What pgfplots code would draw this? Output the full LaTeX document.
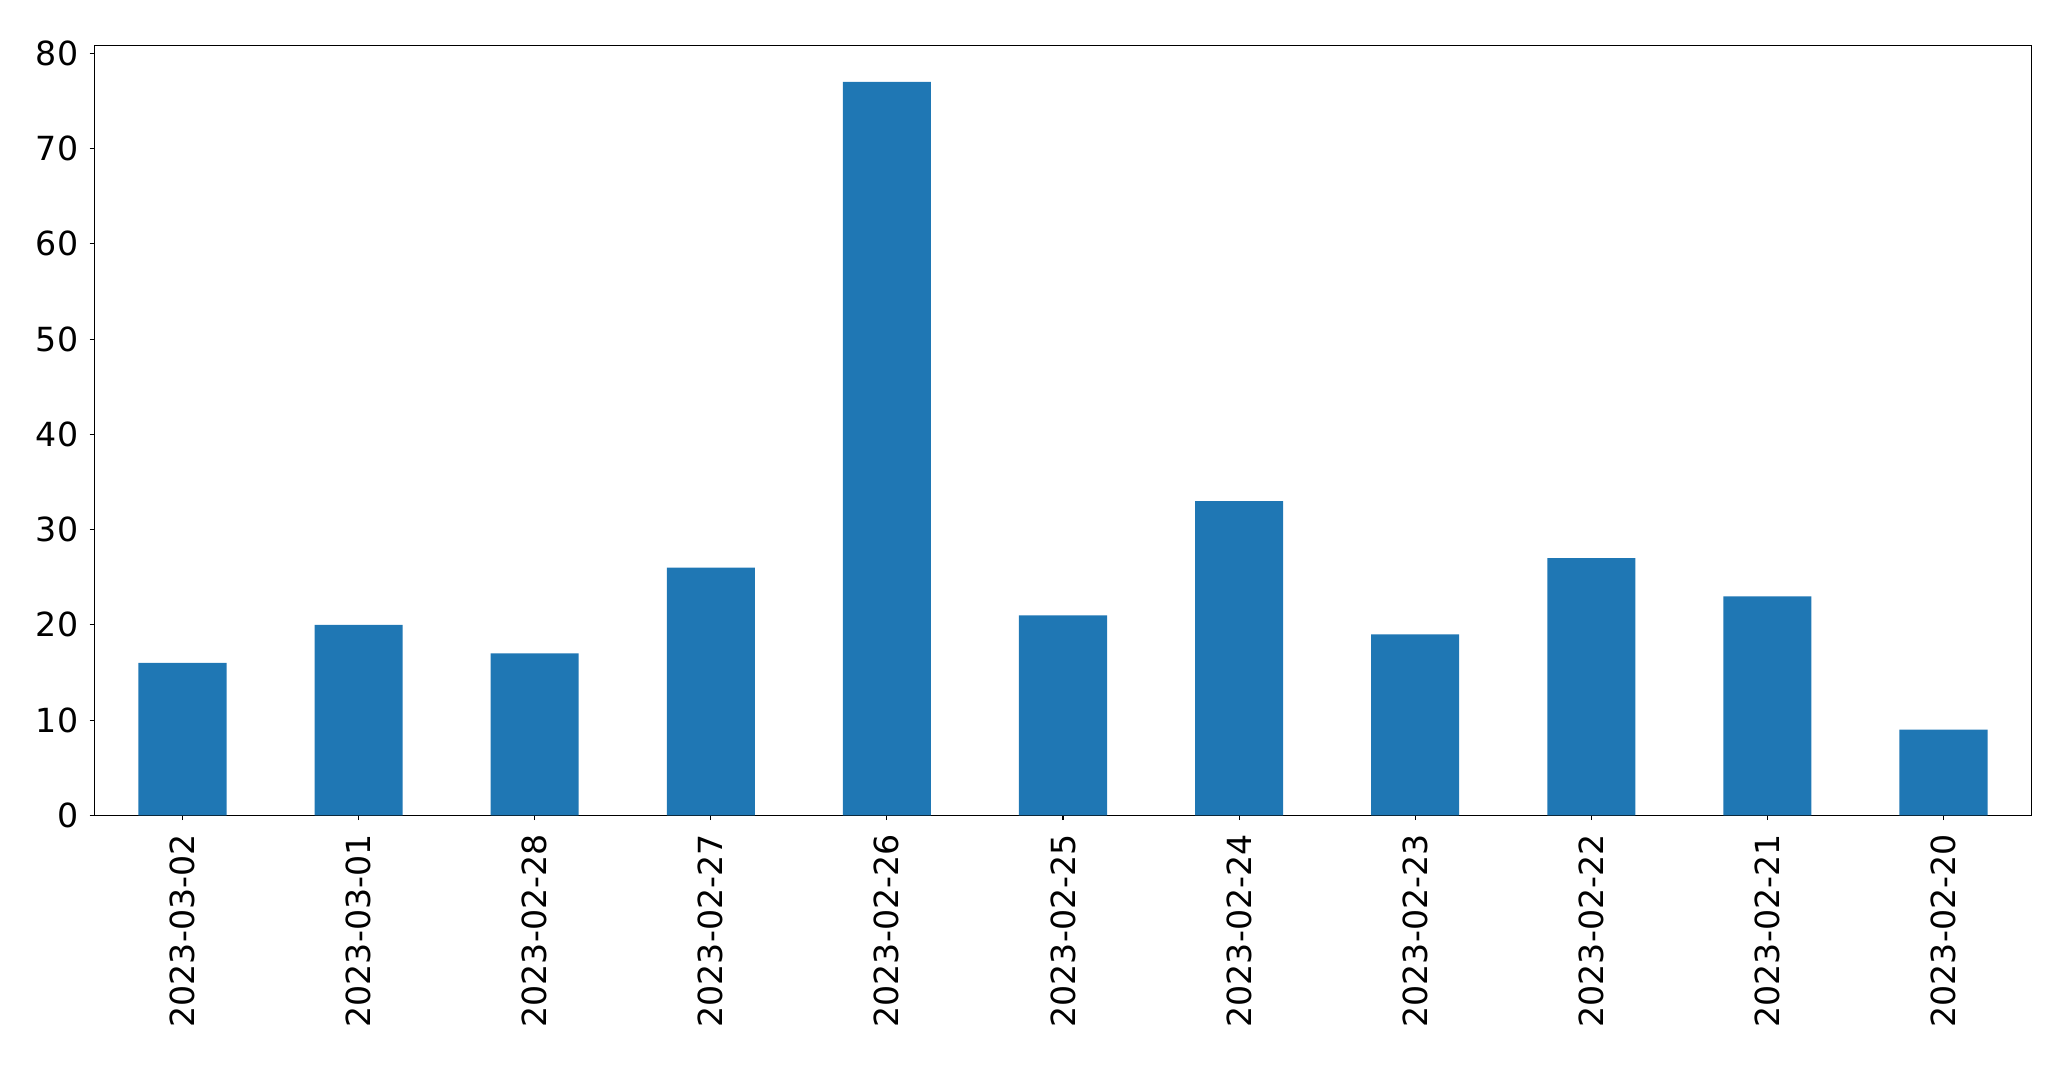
\documentclass[border=0pt]{standalone}
\usepackage{pgfplots}
\pgfplotsset{compat=1.18}
\usepackage{fontspec}
\setmainfont{DejaVu Sans}
\definecolor{mplblue}{HTML}{1F77B4}
\begin{document}
\fontsize{24}{28.8}\selectfont
\begin{tikzpicture}
\begin{axis}[
  at={(0,0)}, anchor=south west,
  scale only axis,
  width=1394.6bp, height=554.4bp,
  xmin=-0.5, xmax=10.5,
  ymin=0, ymax=80.85,
  axis line style={line width=0.8bp},
  every tick/.style={black, line width=0.8bp},
  major tick length=3.5bp,
  tick align=outside,
  xtick pos=bottom, ytick pos=left,
  xtick={0,1,2,3,4,5,6,7,8,9,10},
  xticklabels={2023-03-02,2023-03-01,2023-02-28,2023-02-27,2023-02-26,2023-02-25,2023-02-24,2023-02-23,2023-02-22,2023-02-21,2023-02-20},
  ytick={0,10,20,30,40,50,60,70,80},
  xticklabel style={rotate=90, anchor=east, inner sep=0pt, xshift=-10bp},
  yticklabel style={anchor=east, inner sep=0pt, xshift=-8bp},
  /pgf/number format/assume math mode=true,
  ticklabel style={font=\fontsize{24}{28.8}\selectfont},
  ybar, bar width=0.5,
]
\addplot[draw=none, fill=mplblue] coordinates {
(0,16) (1,20) (2,17) (3,26) (4,77) (5,21) (6,33) (7,19) (8,27) (9,23) (10,9)
};
\end{axis}
\path[use as bounding box] (-68bp,-181.2bp) rectangle (1423bp,587bp);
\end{tikzpicture}
\end{document}
